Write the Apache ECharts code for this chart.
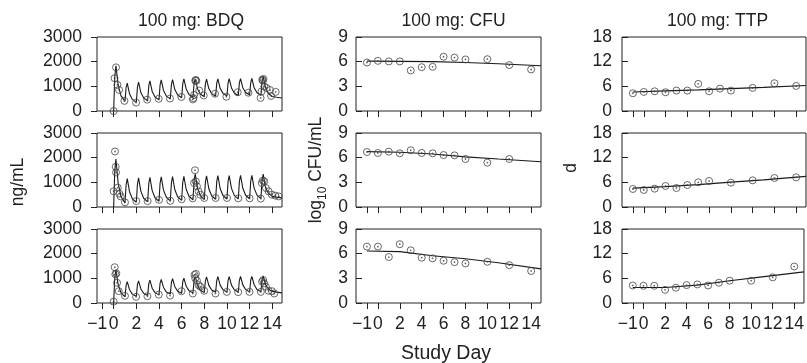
<!DOCTYPE html>
<html>
<head>
<meta charset="utf-8">
<script src="https://cdn.jsdelivr.net/npm/echarts@6/dist/echarts.min.js"></script>
<style>html,body{margin:0;padding:0;background:#fff}#c{width:807px;height:363px}</style>
</head>
<body>
<div id="c"></div>
<script>
// ---------- data ----------
const xTicks = [-1, 0, 2, 4, 6, 8, 10, 12, 14];
const xTickLabels = ['−1', '0', '2', '4', '6', '8', '10', '12', '14'];
const titles = ['100 mg: BDQ', '100 mg: CFU', '100 mg: TTP'];
const yTicksBDQ = [0, 1000, 2000, 3000];
const yTicksCFU = [0, 3, 6, 9];
const yTicksTTP = [0, 6, 12, 18];

// BDQ model prediction (time in days, ng/mL)
const pkTime = [0,0.1,0.2,0.4,0.65, 1,1.1,1.2,1.4,1.65, 2,2.1,2.2,2.4,2.65, 3,3.1,3.2,3.4,3.65,
  4,4.1,4.2,4.4,4.65, 5,5.1,5.2,5.4,5.65, 6,6.1,6.2,6.4,6.65, 7,7.1,7.2,7.4,7.65,
  8,8.1,8.2,8.4,8.65, 9,9.1,9.2,9.4,9.65, 10,10.1,10.2,10.4,10.65, 11,11.1,11.2,11.4,11.65,
  12,12.1,12.2,12.4,12.65, 13,13.1,13.2,13.4,13.65, 14,14.4,14.85];
const pkPred1 = [0,1400,1830,1040,610, 400,950,1130,700,470, 350,965,1170,750,525, 410,1015,1220,795,565,
  450,1055,1260,835,605, 490,1075,1270,870,650, 540,1110,1300,895,670, 560,1115,1300,905,690,
  580,1110,1290,910,705, 600,1125,1300,920,715, 610,1135,1310,935,730, 625,1140,1310,945,750,
  650,1150,1320,945,740, 640,1210,1400,955,710, 590,560,530];
const pkPred2 = [0,1500,1940,960,425, 160,900,1150,620,335, 190,930,1180,645,355, 210,950,1200,665,375,
  230,970,1220,685,395, 250,985,1230,700,415, 270,1000,1240,720,435, 290,1070,1330,765,455,
  300,1020,1260,740,455, 315,1030,1270,750,465, 325,1035,1270,755,470, 330,1040,1280,760,475,
  335,1045,1280,765,480, 340,1080,1330,800,560, 430,400,370];
const pkPred3 = [0,1050,1340,740,415, 250,715,870,540,360, 270,745,900,570,390, 300,775,930,600,420,
  330,805,960,630,450, 360,830,985,660,480, 390,855,1010,680,500, 410,905,1070,715,520,
  420,900,1060,715,525, 430,910,1070,725,535, 440,915,1070,725,540, 445,920,1075,735,545,
  450,925,1080,740,550, 455,940,1100,755,565, 470,440,410];

// BDQ observations
const pkObsTime1 = [0,0.08,0.21,0.33,0.48, 0.95,1.98,2.96,3.97,4.97, 5.98,6.99,7.05,7.1,7.2,
  7.25,7.3,7.55,7.95,8.95, 9.95,10.95,11.9,12.97,13.05, 13.12,13.17,13.22,13.3,13.5, 13.8,13.9,14.3];
const pkObsConc1 = [0,1330,1770,1060,855, 410,340,460,495,505, 570,470,520,650,1230,
  1260,1220,830,630,700, 580,760,740,530,790, 1270,1230,1300,990,930, 850,610,775];
const pkObsTime2 = [0,0.12,0.18,0.21,0.36, 0.5,0.62,1,2,3, 4,5,6,6.97,7.1,
  7.18,7.25,7.35,7.5,7.65, 8,9,10,11,12, 12.99,13.08,13.17,13.29,13.44, 13.68,13.97,14.27,14.57];
const pkObsConc2 = [640,2250,1630,1400,785, 540,430,190,240,240, 290,250,315,350,970,
  1490,1040,840,635,500, 365,365,365,350,350, 340,970,1070,1040,770, 635,500,460,430];
const pkObsTime3 = [0,0.09,0.15,0.24,0.3, 0.45,1,1.98,2.98,3.98, 4.98,5.99,6.99,7.14,7.2,
  7.26,7.35,7.5,7.65,7.99, 8.99,9.99,10.99,11.99,12.99, 13.1,13.2,13.29,13.44,13.68, 13.97,14.18];
const pkObsConc3 = [55,1450,1165,1200,820, 480,290,250,275,340, 300,480,385,1140,1000,
  1180,905,725,660,495, 385,450,440,450,450, 865,930,795,660,495, 480,385];

// CFU (log10 CFU/mL)
const cfuDays1 = [-1,0,1,2,3,4,5,6,7,8,10,12,14];
const cfuObs1 = [5.9,6.1,6.03,6.03,4.93,5.33,5.37,6.6,6.5,6.27,6.3,5.58,5.05];
const cfuDays2 = [-1,0,1,2,3,4,5,6,7,8,10,12];
const cfuObs2 = [6.69,6.57,6.73,6.53,6.9,6.57,6.53,6.32,6.28,5.84,5.39,5.84];
const cfuDays3 = [-1,0,1,2,3,4,5,6,7,8,10,12,14];
const cfuObs3 = [6.86,6.86,5.59,7.15,6.41,5.51,5.43,5.14,4.97,4.81,5.01,4.6,3.9];
const fitTime = [-1, 2, 5, 8, 11, 14.9];
const cfuFit1 = [6.07, 6.04, 6.0, 5.9, 5.75, 5.5];
const cfuFit2 = [6.73, 6.66, 6.45, 6.1, 5.83, 5.5];
const cfuFit3 = [6.33, 6.25, 5.75, 5.38, 4.9, 4.15];

// TTP (days)
const ttpDays1 = [-1,0,1,2,3,4,5,6,7,8,10,12,14];
const ttpObs1 = [4.32,4.64,4.8,4.56,4.97,4.97,6.6,4.8,5.46,4.97,5.62,6.76,6.1];
const ttpDays2 = [-1,0,1,2,3,4,5,6,8,10,12,14];
const ttpObs2 = [4.38,4.14,4.46,5.11,4.62,5.35,6.0,6.33,5.92,6.49,7.06,7.22];
const ttpDays3 = [-1,0,1,2,3,4,5,6,7,8,10,12,14];
const ttpObs3 = [4.27,4.19,4.19,3.2,3.7,4.35,4.52,4.27,4.93,5.42,5.42,6.24,8.87];
const ttpFit1 = [4.62, 4.9, 5.15, 5.45, 5.75, 6.2];
const ttpFit2 = [4.6, 4.95, 5.45, 6.05, 6.6, 7.45];
const ttpFit3 = [3.78, 3.78, 4.35, 5.42, 6.35, 7.56];

// ---------- layout ----------
const FONT = 'Liberation Sans, Arial, sans-serif';
const TXT = '#222';
const colLeft = [97, 356, 622];
const colWidth = [185, 185, 184];
const rowTop = [37, 133, 229];
const rowH = 74;
const colX = [[-1.47, 14.86], [-2.0, 14.9], [-2.0, 14.9]];
const colY = [[3000, 1000, yTicksBDQ], [9, 3, yTicksCFU], [18, 6, yTicksTTP]];
const colLabelMargin = [15, 8, 10];

const zip = (a, b) => a.map((v, i) => [v, b[i]]);
const panelData = [
  [ {line: zip(pkTime, pkPred1), obs: zip(pkObsTime1, pkObsConc1)},
    {line: zip(fitTime, cfuFit1), obs: zip(cfuDays1, cfuObs1)},
    {line: zip(fitTime, ttpFit1), obs: zip(ttpDays1, ttpObs1)} ],
  [ {line: zip(pkTime, pkPred2), obs: zip(pkObsTime2, pkObsConc2)},
    {line: zip(fitTime, cfuFit2), obs: zip(cfuDays2, cfuObs2)},
    {line: zip(fitTime, ttpFit2), obs: zip(ttpDays2, ttpObs2)} ],
  [ {line: zip(pkTime, pkPred3), obs: zip(pkObsTime3, pkObsConc3)},
    {line: zip(fitTime, cfuFit3), obs: zip(cfuDays3, cfuObs3)},
    {line: zip(fitTime, ttpFit3), obs: zip(ttpDays3, ttpObs3)} ]
];

const labelStyle = {fontFamily: FONT, fontSize: 17.5, color: TXT};
const grid = [], xAxis = [], yAxis = [], series = [];
const extraX = [];
let idx = 0;
for (let r = 0; r < 3; r++) {
  for (let c = 0; c < 3; c++) {
    grid.push({left: colLeft[c], top: rowTop[r], width: colWidth[c], height: rowH,
      show: true, borderColor: '#222', borderWidth: 1, backgroundColor: 'transparent'});
    const mainLabels = xTicks.slice(1);
    xAxis.push({type: 'value', gridIndex: idx, min: colX[c][0], max: colX[c][1],
      axisLine: {show: false, onZero: false}, splitLine: {show: false},
      axisTick: {show: true, customValues: xTicks, length: 6, lineStyle: {color: '#222', width: 1}},
      axisLabel: Object.assign({show: r === 2, customValues: mainLabels, margin: 12,
        showMinLabel: true, showMaxLabel: true, hideOverlap: false,
        formatter: v => xTickLabels[xTicks.indexOf(v)]}, labelStyle)});
    if (r === 2) {
      // separate axis on the same grid carrying only the "−1" label (avoids overlap hiding)
      extraX.push({type: 'value', gridIndex: idx, min: colX[c][0], max: colX[c][1], position: 'bottom',
        axisLine: {show: false, onZero: false}, splitLine: {show: false}, axisTick: {show: false},
        axisLabel: Object.assign({show: true, customValues: [xTicks[0]], margin: 12,
          padding: [0, 10, 0, 0],
          showMinLabel: true, showMaxLabel: true,
          formatter: v => xTickLabels[xTicks.indexOf(v)]}, labelStyle)});
    }
    yAxis.push({type: 'value', gridIndex: idx, min: 0, max: colY[c][0], interval: colY[c][1],
      axisLine: {show: false, onZero: false}, splitLine: {show: false},
      axisTick: {show: true, inside: c > 0, length: 6, lineStyle: {color: '#222', width: 1}},
      axisLabel: Object.assign({margin: colLabelMargin[c], formatter: v => String(v),
        showMinLabel: true, showMaxLabel: true}, labelStyle)});
    const d = panelData[r][c];
    series.push({type: 'line', xAxisIndex: idx, yAxisIndex: idx, data: d.line, symbol: 'none',
      lineStyle: {color: '#1a1a1a', width: 1.1}, silent: true, animation: false, z: 2});
    series.push({type: 'scatter', xAxisIndex: idx, yAxisIndex: idx, data: d.obs, symbol: 'circle',
      symbolSize: 7, itemStyle: {color: 'rgba(255,255,255,0)', borderColor: '#444', borderWidth: 1},
      silent: true, animation: false, z: 3});
    series.push({type: 'scatter', xAxisIndex: idx, yAxisIndex: idx, data: d.obs, symbol: 'circle',
      symbolSize: 1.8, itemStyle: {color: '#444'}, silent: true, animation: false, z: 4});
    idx++;
  }
}
extraX.forEach(a => xAxis.push(a));

const graphic = [
  {type: 'text', x: 191, y: 21, style: {text: titles[0], font: '17.5px ' + FONT, fill: TXT, align: 'center', verticalAlign: 'middle'}},
  {type: 'text', x: 453.5, y: 21, style: {text: titles[1], font: '17.5px ' + FONT, fill: TXT, align: 'center', verticalAlign: 'middle'}},
  {type: 'text', x: 717.5, y: 21, style: {text: titles[2], font: '17.5px ' + FONT, fill: TXT, align: 'center', verticalAlign: 'middle'}},
  {type: 'text', x: 446, y: 354, style: {text: 'Study Day', font: '19.5px ' + FONT, fill: TXT, align: 'center', verticalAlign: 'middle'}},
  {type: 'text', x: 18, y: 182, rotation: Math.PI / 2, style: {text: 'ng/mL', font: '17.5px ' + FONT, fill: TXT, align: 'center', verticalAlign: 'middle'}},
  {type: 'text', x: 318, y: 170, rotation: Math.PI / 2, style: {text: '{a|log}{s|10}{a| CFU/mL}', fill: TXT, align: 'center', verticalAlign: 'middle',
    rich: {a: {fontFamily: FONT, fontSize: 17.5, color: TXT, lineHeight: 22, verticalAlign: 'top'},
           s: {fontFamily: FONT, fontSize: 12, color: TXT, lineHeight: 22, verticalAlign: 'bottom', padding: [9, 0, 0, 0]}}}},
  {type: 'text', x: 571, y: 168, rotation: Math.PI / 2, style: {text: 'd', font: '17.5px ' + FONT, fill: TXT, align: 'center', verticalAlign: 'middle'}}
];

const chart = echarts.init(document.getElementById('c'), null, {renderer: 'canvas'});
chart.setOption({animation: false, grid, xAxis, yAxis, series, graphic});
</script>
</body>
</html>
